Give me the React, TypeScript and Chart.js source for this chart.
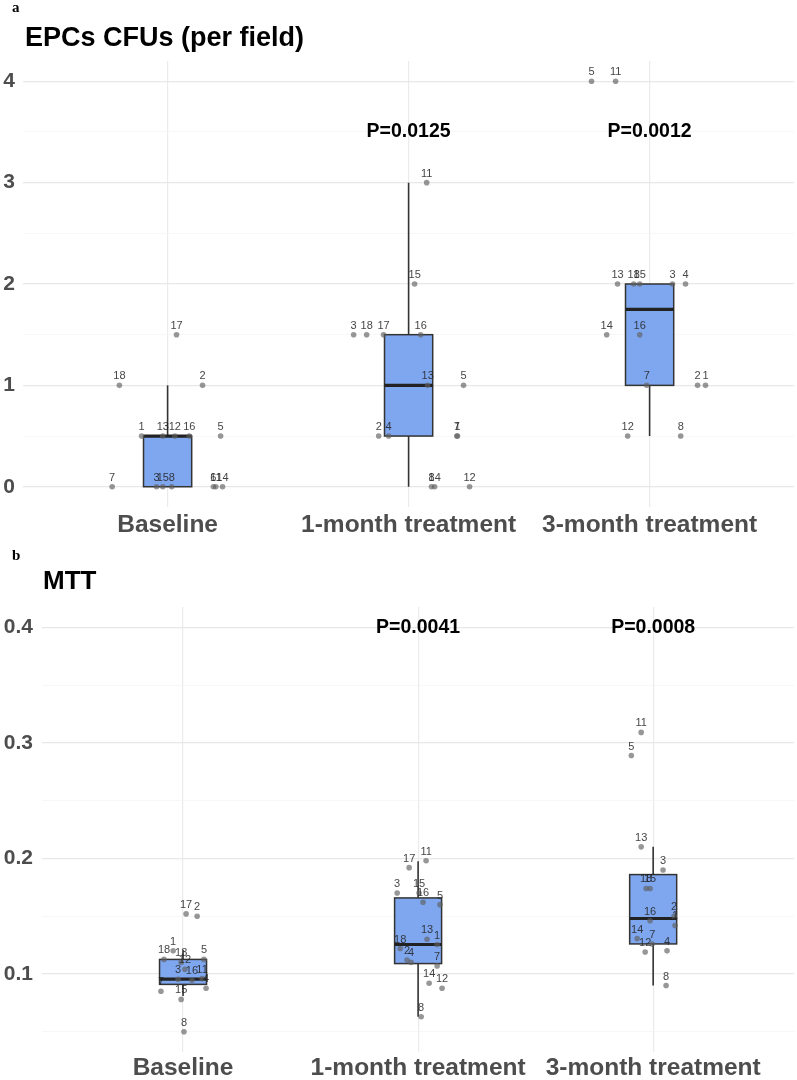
import React, { useEffect, useRef } from 'react';
import { Chart, registerables } from 'chart.js';

Chart.register(...registerables);

// ---------- Shared ----------
const categories = ['Baseline', '1-month treatment', '3-month treatment'];

// ---------- Panel a: EPCs CFUs (per field) ----------
const epcBaseLabels = ['18', '2', '17', '1', '13', '12', '16', '5', '7', '3', '15', '8', '6', '11', '14'];
const epcBaseValues = [1, 1, 1.5, 0.5, 0.5, 0.5, 0.5, 0.5, 0, 0, 0, 0, 0, 0, 0];
const epcBaseJitter = [-0.2, 0.145, 0.037, -0.108, -0.02, 0.03, 0.09, 0.22, -0.23, -0.046, -0.02, 0.017, 0.19, 0.2, 0.228];

const epc1mLabels = ['11', '15', '3', '18', '17', '16', '13', '5', '2', '4', '7', '1', '8', '14', '12'];
const epc1mValues = [3, 2, 1.5, 1.5, 1.5, 1.5, 1, 1, 0.5, 0.5, 0.5, 0.5, 0, 0, 0];
const epc1mJitter = [0.075, 0.025, -0.228, -0.174, -0.104, 0.05, 0.079, 0.228, -0.124, -0.083, 0.2, 0.203, 0.095, 0.108, 0.253];

const epc3mLabels = ['5', '11', '13', '18', '15', '3', '4', '14', '16', '7', '2', '1', '12', '8'];
const epc3mValues = [4, 4, 2, 2, 2, 2, 2, 1.5, 1.5, 1, 1, 1, 0.5, 0.5];
const epc3mJitter = [-0.241, -0.141, -0.133, -0.066, -0.041, 0.095, 0.149, -0.178, -0.041, -0.012, 0.199, 0.232, -0.091, 0.129];

const epcQ1 = [0, 0.5, 1];
const epcMedian = [0.5, 1, 1.75];
const epcQ3 = [0.5, 1.5, 2];
const epcWhiskerLow = [0, 0, 0.5];
const epcWhiskerHigh = [1, 3, 2];
const epcPTexts = ['', 'P=0.0125', 'P=0.0012'];
const epcPY = 3.5;
const epcYMajor = [0, 1, 2, 3, 4];
const epcYMajorLabels = ['0', '1', '2', '3', '4'];
const epcYMinor = [0.5, 1.5, 2.5, 3.5];
const epcYRange = [-0.2, 4.2];

// ---------- Panel b: MTT ----------
const mttBaseLabels = ['17', '2', '1', '18', '5', '13', '12', '3', '16', '11', '4', '7', '15', '8'];
const mttBaseValues = [0.152, 0.15, 0.12, 0.1126, 0.1126, 0.11, 0.104, 0.0955, 0.0946, 0.096, 0.0877, 0.085, 0.078, 0.05];
const mttBaseJitter = [0.013, 0.06, -0.042, -0.081, 0.089, -0.008, 0.008, -0.021, 0.038, 0.081, 0.098, -0.094, -0.008, 0.004];

const mtt1mLabels = ['17', '11', '3', '15', '16', '5', '13', '1', '18', '2', '4', '7', '14', '12', '8'];
const mtt1mValues = [0.192, 0.198, 0.17, 0.17, 0.162, 0.16, 0.13, 0.1255, 0.122, 0.112, 0.11, 0.107, 0.092, 0.0877, 0.063];
const mtt1mJitter = [-0.038, 0.034, -0.089, 0.004, 0.021, 0.093, 0.038, 0.081, -0.076, -0.047, -0.03, 0.081, 0.047, 0.102, 0.013];

const mtt3mLabels = ['11', '5', '13', '3', '18', '15', '16', '2', '1', '14', '7', '12', '4', '8'];
const mtt3mValues = [0.309, 0.289, 0.21, 0.19, 0.174, 0.174, 0.146, 0.15, 0.142, 0.1306, 0.126, 0.119, 0.12, 0.09];
const mtt3mJitter = [-0.051, -0.093, -0.051, 0.042, -0.03, -0.013, -0.013, 0.089, 0.093, -0.068, -0.004, -0.034, 0.059, 0.055];

const mttQ1 = [0.091, 0.109, 0.126];
const mttMedian = [0.0955, 0.1255, 0.148];
const mttQ3 = [0.1126, 0.1658, 0.186];
const mttWhiskerLow = [0.081, 0.063, 0.09];
const mttWhiskerHigh = [0.121, 0.1975, 0.21];
const mttPTexts = ['', 'P=0.0041', 'P=0.0008'];
const mttPY = 0.4;
const mttYMajor = [0.1, 0.2, 0.3, 0.4];
const mttYMajorLabels = ['0.1', '0.2', '0.3', '0.4'];
const mttYMinor = [0.05, 0.15, 0.25, 0.35];
const mttYRange = [0.0325, 0.4175];

// ---------- Styling ----------
const FONT = '"Liberation Sans", Arial, Helvetica, sans-serif';
const BOX_FILL = '#7fa7ef';
const BOX_LINE = '#333333';
const POINT_COLOR = 'rgba(95,95,95,0.65)';
const AXIS_TEXT = '#4d4d4d';

type Group = { labels: string[]; values: number[]; jitter: number[] };
type PanelSpec = {
  groups: Group[];
  q1: number[]; median: number[]; q3: number[]; lo: number[]; hi: number[];
  pTexts: string[]; pY: number;
  yRange: number[]; yMajor: number[]; yMajorLabels: string[]; yMinor: number[];
  width: number; height: number;
  padTop: number; yAxisWidth: number; xAxisHeight: number; xLabelPad: number; yLabelPad: number;
};

const near = (a: number, b: number) => Math.abs(a - b) < 1e-9;

function makeBoxPlugin(spec: PanelSpec) {
  return {
    id: 'boxes',
    beforeDatasetsDraw(chart: any) {
      const { ctx } = chart;
      const x = chart.scales.x;
      const y = chart.scales.y;
      ctx.save();
      for (let i = 0; i < categories.length; i++) {
        const cx = x.getPixelForValue(i + 1);
        const half = x.getPixelForValue(i + 1 + 0.1) - cx;
        const top = y.getPixelForValue(spec.q3[i]);
        const bot = y.getPixelForValue(spec.q1[i]);
        ctx.strokeStyle = BOX_LINE;
        ctx.lineWidth = 1.6;
        ctx.beginPath();
        ctx.moveTo(cx, top);
        ctx.lineTo(cx, y.getPixelForValue(spec.hi[i]));
        ctx.moveTo(cx, bot);
        ctx.lineTo(cx, y.getPixelForValue(spec.lo[i]));
        ctx.stroke();
        ctx.fillStyle = BOX_FILL;
        ctx.fillRect(cx - half, top, half * 2, bot - top);
        ctx.lineWidth = 1.5;
        ctx.strokeRect(cx - half, top, half * 2, bot - top);
        const my = y.getPixelForValue(spec.median[i]);
        ctx.strokeStyle = '#222222';
        ctx.lineWidth = 3.2;
        ctx.beginPath();
        ctx.moveTo(cx - half, my);
        ctx.lineTo(cx + half, my);
        ctx.stroke();
      }
      ctx.restore();
    },
  };
}

function makeLabelPlugin(spec: PanelSpec) {
  return {
    id: 'pointLabels',
    afterDatasetsDraw(chart: any) {
      const { ctx } = chart;
      const x = chart.scales.x;
      const y = chart.scales.y;
      ctx.save();
      ctx.textAlign = 'center';
      ctx.textBaseline = 'middle';
      ctx.font = `11px ${FONT}`;
      ctx.fillStyle = 'rgba(35,35,35,0.85)';
      spec.groups.forEach((g, di) => {
        const meta = chart.getDatasetMeta(di);
        meta.data.forEach((el: any, j: number) => {
          ctx.fillText(g.labels[j], el.x, el.y - 9);
        });
      });
      ctx.font = `bold 19.5px ${FONT}`;
      ctx.fillStyle = '#000000';
      spec.pTexts.forEach((t, i) => {
        if (!t) return;
        ctx.fillText(t, x.getPixelForValue(i + 1), y.getPixelForValue(spec.pY));
      });
      ctx.restore();
    },
  };
}

function PanelChart({ spec, top }: { spec: PanelSpec; top: number }) {
  const ref = useRef<HTMLCanvasElement | null>(null);
  useEffect(() => {
    if (!ref.current) return;
    const yTicks = [...spec.yMajor, ...spec.yMinor].sort((a, b) => a - b);
    const chart = new Chart(ref.current, {
      type: 'scatter',
      data: {
        datasets: spec.groups.map((g, gi) => ({
          data: g.values.map((v, j) => ({ x: gi + 1 + g.jitter[j], y: v })),
          backgroundColor: POINT_COLOR,
          borderColor: POINT_COLOR,
          borderWidth: 0,
          pointRadius: 2.8,
          pointHoverRadius: 2.8,
        })),
      },
      options: {
        animation: false,
        responsive: false,
        events: [],
        layout: { padding: { left: 0, right: 0, top: spec.padTop, bottom: 0 } },
        plugins: {
          legend: { display: false },
          tooltip: { enabled: false },
          title: { display: false },
        },
        scales: {
          x: {
            type: 'linear',
            min: 0.4,
            max: 3.6,
            afterBuildTicks: (s: any) => {
              s.ticks = categories.map((_, i) => ({ value: i + 1 }));
            },
            afterFit: (s: any) => {
              s.height = spec.xAxisHeight;
            },
            ticks: {
              autoSkip: false,
              maxRotation: 0,
              padding: spec.xLabelPad,
              color: AXIS_TEXT,
              font: { family: FONT, size: 24.5, weight: 'bold' },
              callback: (v: any) => categories[Math.round(Number(v)) - 1] ?? '',
            },
            grid: { color: '#ebebeb', lineWidth: 1.2, drawTicks: false },
            border: { display: false },
          },
          y: {
            type: 'linear',
            min: spec.yRange[0],
            max: spec.yRange[1],
            afterBuildTicks: (s: any) => {
              s.ticks = yTicks.map((v) => ({ value: v }));
            },
            afterFit: (s: any) => {
              s.width = spec.yAxisWidth;
            },
            ticks: {
              padding: spec.yLabelPad,
              color: AXIS_TEXT,
              font: { family: FONT, size: 21, weight: 'bold' },
              callback: (v: any) => {
                const i = spec.yMajor.findIndex((m) => near(m, Number(v)));
                return i >= 0 ? spec.yMajorLabels[i] : '';
              },
            },
            grid: {
              drawTicks: false,
              color: (c: any) =>
                c.tick && spec.yMajor.some((m) => near(m, c.tick.value)) ? '#e8e8e8' : '#f3f3f3',
              lineWidth: (c: any) =>
                c.tick && spec.yMajor.some((m) => near(m, c.tick.value)) ? 1.2 : 0.7,
            },
            border: { display: false },
          },
        },
      } as any,
      plugins: [makeBoxPlugin(spec), makeLabelPlugin(spec)],
    });
    return () => chart.destroy();
  }, [spec]);
  return (
    <canvas
      ref={ref}
      width={spec.width}
      height={spec.height}
      style={{ position: 'absolute', left: 0, top, width: spec.width, height: spec.height, display: 'block' }}
    />
  );
}

const epcSpec: PanelSpec = {
  groups: [
    { labels: epcBaseLabels, values: epcBaseValues, jitter: epcBaseJitter },
    { labels: epc1mLabels, values: epc1mValues, jitter: epc1mJitter },
    { labels: epc3mLabels, values: epc3mValues, jitter: epc3mJitter },
  ],
  q1: epcQ1, median: epcMedian, q3: epcQ3, lo: epcWhiskerLow, hi: epcWhiskerHigh,
  pTexts: epcPTexts, pY: epcPY,
  yRange: epcYRange, yMajor: epcYMajor, yMajorLabels: epcYMajorLabels, yMinor: epcYMinor,
  width: 797, height: 540,
  padTop: 61, yAxisWidth: 23, xAxisHeight: 33, xLabelPad: 4, yLabelPad: 8,
};

const mttSpec: PanelSpec = {
  groups: [
    { labels: mttBaseLabels, values: mttBaseValues, jitter: mttBaseJitter },
    { labels: mtt1mLabels, values: mtt1mValues, jitter: mtt1mJitter },
    { labels: mtt3mLabels, values: mtt3mValues, jitter: mtt3mJitter },
  ],
  q1: mttQ1, median: mttMedian, q3: mttQ3, lo: mttWhiskerLow, hi: mttWhiskerHigh,
  pTexts: mttPTexts, pY: mttPY,
  yRange: mttYRange, yMajor: mttYMajor, yMajorLabels: mttYMajorLabels, yMinor: mttYMinor,
  width: 797, height: 540,
  padTop: 67, yAxisWidth: 42, xAxisHeight: 28, xLabelPad: 2, yLabelPad: 9,
};

export default function App() {
  return (
    <div
      style={{
        position: 'absolute',
        left: 0,
        top: 0,
        width: 797,
        height: 1080,
        background: '#ffffff',
        overflow: 'hidden',
        fontFamily: FONT,
      }}
    >
      <PanelChart spec={epcSpec} top={0} />
      <PanelChart spec={mttSpec} top={540} />
      <div style={{ position: 'absolute', left: 12, top: -1, font: 'bold 15px "Liberation Serif", "Times New Roman", serif', lineHeight: '16px' }}>a</div>
      <div style={{ position: 'absolute', left: 25, top: 24, fontWeight: 'bold', fontSize: 27, lineHeight: 1, color: '#000', whiteSpace: 'nowrap' }}>
        EPCs CFUs (per field)
      </div>
      <div style={{ position: 'absolute', left: 12, top: 547, font: 'bold 15px "Liberation Serif", "Times New Roman", serif', lineHeight: '16px' }}>b</div>
      <div style={{ position: 'absolute', left: 43, top: 567, fontWeight: 'bold', fontSize: 26, lineHeight: 1, color: '#000', whiteSpace: 'nowrap' }}>
        MTT
      </div>
    </div>
  );
}
